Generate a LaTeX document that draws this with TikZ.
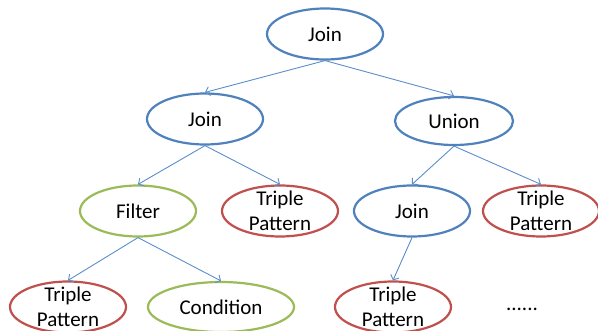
\documentclass[tikz,border=0pt]{standalone}
\usepackage{fontspec}
\setmainfont{Carlito}
\usetikzlibrary{shapes.geometric,arrows.meta}

\definecolor{opblue}{HTML}{4F81BD}
\definecolor{opred}{HTML}{C0504D}
\definecolor{opgreen}{HTML}{9BBB59}
\definecolor{edgeblue}{HTML}{5B8DCB}

\tikzset{
    op/.style={ellipse, draw=#1, line width=2.2pt, inner sep=0pt,
        minimum width=116pt, minimum height=51pt},
    lbl/.style={font=\fontsize{21}{25}\selectfont, align=center, inner sep=0pt},
    edge/.style={edgeblue, line width=0.9pt, -{Straight Barb[length=4pt,width=9pt]}}
}

\begin{document}
\begin{tikzpicture}[x=1pt,y=-1pt]
            \useasboundingbox (0,0) rectangle (598,331);

            % Operator ellipses, row by row
            \node [op=opblue] (join0) at (325,34) {};
            \node [op=opblue] (join1) at (205,119) {};
            \node [op=opblue,minimum width=118pt,minimum height=48pt] (union) at (454,121) {};
            \node [op=opgreen] (filter) at (138,211) {};
            \node [op=opred] (tp1) at (280,211) {};
            \node [op=opblue] (join2) at (412,211) {};
            \node [op=opred] (tp2) at (541,211) {};
            \node [op=opred] (tp3) at (68,307) {};
            \node [op=opgreen,minimum width=146pt,minimum height=50pt] (cond) at (221,307) {};
            \node [op=opred] (tp4) at (393,307) {};

            % Texts inside the ellipses
            \foreach \n/\t in {join0/Join, join1/Join, union/Union, filter/Filter,
                join2/Join, cond/Condition} {
                \node [lbl] at (\n) {\t};
            }
            \foreach \n in {tp1, tp2, tp3, tp4} {
                \node [lbl] at (\n) {Triple\\Pattern};
            }
            \node [lbl] (more) at (522,309) {......};

            % Parent to child arrows
            \foreach \a/\b in {join0/join1, join0/union, join1/filter, join1/tp1,
                union/join2, union/tp2, filter/tp3, filter/cond, join2/tp4} {
                \draw [edge] (\a.south) -- (\b.north);
            }

\end{tikzpicture}
\end{document}
